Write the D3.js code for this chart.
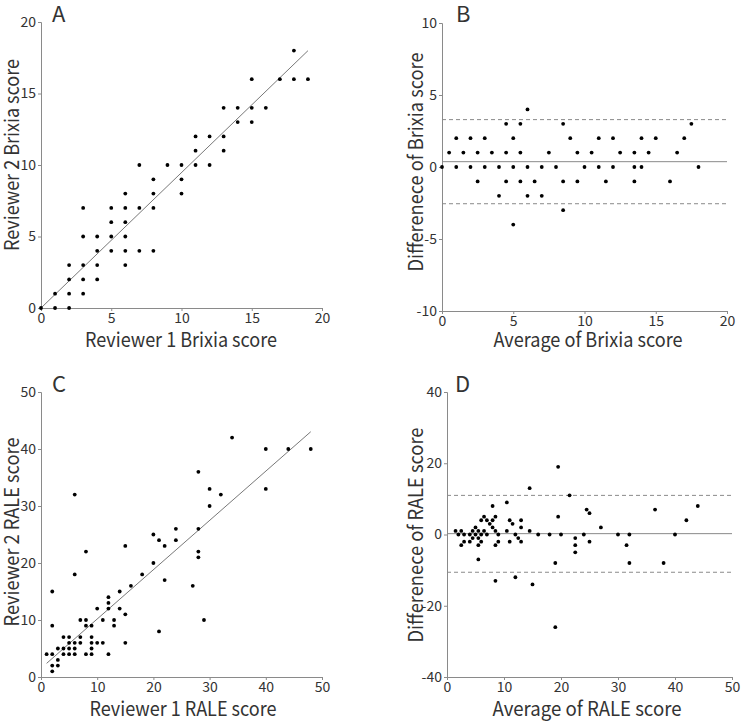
<!DOCTYPE html>
<html>
<head>
<meta charset="utf-8">
<script src="https://cdn.jsdelivr.net/npm/d3@7"></script>
<style>
  body { margin: 0; background: #fff; }
  text { font-family: "Noto Sans CJK JP", "Noto Sans", sans-serif; fill: #333; }
</style>
</head>
<body>
<div id="chart"></div>
<script>
// Panel A: reviewer 1 vs reviewer 2 Brixia score
const brixiaR1 = [0,1,1,2,2,2,2,3,3,3,3,3,4,4,4,4,5,5,5,5,6,6,6,6,6,6,7,7,7,8,8,8,8,9,10,10,10,11,11,11,12,12,13,13,13,14,14,15,15,15,16,17,18,18,19];
const brixiaR2 = [0,0,1,0,1,2,3,1,2,3,5,7,2,3,4,5,4,5,6,7,3,4,5,6,7,8,4,7,10,4,7,8,9,10,8,9,10,10,11,12,10,12,11,12,14,13,14,13,14,16,14,16,16,18,16];
const brixiaFit = [0, 0.947];          // intercept, slope
const brixiaFitRange = [0, 19];

// Panel B: Bland-Altman, Brixia
const brixiaAvg = [0,0.5,1,1,1.5,2,2,2.5,2.5,3,3,3.5,4,4,4.5,4.5,4.5,5,5,5,5.5,5.5,5.5,6,6,6,6.5,7,7,7.5,8,8.5,8.5,8.5,9,9.5,9.5,10,10.5,11,11,11.5,12,12,12.5,13.5,13.5,13.5,14,14,14.5,15,16,16.5,17,17.5,18];
const brixiaDiff = [0,1,2,0,1,2,0,1,-1,2,0,1,0,-2,3,1,-1,2,0,-4,3,1,-1,4,0,-2,-1,0,-2,1,0,3,-1,-3,2,1,-1,0,1,2,0,-1,2,0,1,1,0,-1,2,0,1,2,-1,1,2,3,0];
const brixiaBA = [0.37, 3.29, -2.55];  // mean, upper LoA, lower LoA

// Panel C: reviewer 1 vs reviewer 2 RALE score
const raleR1 = [1,2,2,2,2,2,3,3,3,4,4,4,5,5,5,5,6,6,6,6,6,7,7,7,8,8,8,8,9,9,9,9,9,10,10,11,11,12,12,12,12,13,13,14,14,15,15,15,16,18,20,20,21,21,22,22,24,24,27,28,28,28,28,29,30,30,32,34,40,40,44,48];
const raleR2 = [4,4,2,1,9,15,2,3,5,4,5,7,4,5,6,7,4,5,6,18,32,6,7,10,4,9,10,22,4,5,6,7,9,6,12,6,10,4,12,13,14,9,10,12,15,6,11,23,16,18,20,25,8,24,17,23,24,26,16,26,21,22,36,10,30,33,32,42,40,33,40,40];
const raleFit = [1.53, 0.8646];
const raleFitRange = [1, 48];

// Panel D: Bland-Altman, RALE
const raleAvg = [1.5,2,2.5,2.5,3,3,4,4,4.5,4.5,5,5,5.5,5.5,5.5,5.5,6,6,6,6.5,6.5,7,7,7.5,8,8,8,8.5,8.5,8.5,8.5,9,9,10.5,10.5,11,11,11.5,12,12,12.5,13,13,13,14.5,14.5,15,16,18,19,19,19.5,19.5,20,21.5,22.5,22.5,22.5,24,24.5,25,25,27,30,31.5,32,32,36.5,38,40,42,44];
const raleDiff = [1,0,1,-3,0,-2,0,-2,1,-1,2,0,1,-1,-3,-7,4,0,-2,5,1,4,0,3,8,4,2,5,1,-3,-13,0,-2,9,1,4,-2,3,0,-12,-1,4,2,-2,13,1,-14,0,0,-8,-26,19,5,0,11,-1,-3,-5,0,7,6,-2,2,0,-3,0,-8,7,-8,0,4,8];
const raleBA = [0.24, 10.98, -10.6];

const svg = d3.select("#chart").append("svg")
  .attr("width", 750)
  .attr("height", 725);

// layout per panel; title widths follow the condensed font of the original
const panels = [
  { label: "A", xs: brixiaR1, ys: brixiaR2, xDom: [0, 20], yDom: [0, 20], xTicks: [0,5,10,15,20], yTicks: [0,5,10,15,20],
    xr: [41, 322], yr: [308, 22], xTitle: "Reviewer 1 Brixia score", yTitle: "Reviewer 2 Brixia score",
    fit: brixiaFit, fitRange: brixiaFitRange,
    xt: [181, 347, 192], yt: [19, 155, 192], lx: 52, ly: 22 },
  { label: "B", xs: brixiaAvg, ys: brixiaDiff, xDom: [0, 20], yDom: [-10, 10], xTicks: [0,5,10,15,20], yTicks: [-10,-5,0,5,10],
    xr: [442, 727], yr: [311, 23], xTitle: "Average of Brixia score", yTitle: "Differenece of Brixia score",
    ba: brixiaBA,
    xt: [588, 347, 189], yt: [423, 162, 219], lx: 456, ly: 22 },
  { label: "C", xs: raleR1, ys: raleR2, xDom: [0, 50], yDom: [0, 50], xTicks: [0,10,20,30,40,50], yTicks: [0,10,20,30,40,50],
    xr: [41, 322], yr: [677, 392], xTitle: "Reviewer 1 RALE score", yTitle: "Reviewer 2 RALE score",
    fit: raleFit, fitRange: raleFitRange,
    xt: [183, 716, 187], yt: [19, 532, 189], lx: 52, ly: 392 },
  { label: "D", xs: raleAvg, ys: raleDiff, xDom: [0, 50], yDom: [-40, 40], xTicks: [0,10,20,30,40,50], yTicks: [-40,-20,0,20,40],
    xr: [447, 732], yr: [677, 392], xTitle: "Average of RALE score", yTitle: "Differenece of RALE score",
    ba: raleBA,
    xt: [587, 716, 189], yt: [423, 535, 215], lx: 455, ly: 392 }
];

panels.forEach(function(p) {
  const x = d3.scaleLinear().domain(p.xDom).range(p.xr);
  const y = d3.scaleLinear().domain(p.yDom).range(p.yr);
  const g = svg.append("g");

  // axes
  const xAxis = g.append("g")
    .attr("transform", `translate(0,${p.yr[0]})`)
    .call(d3.axisBottom(x).tickValues(p.xTicks).tickSize(3).tickPadding(2).tickFormat(d => String(d)));
  const yAxis = g.append("g")
    .attr("transform", `translate(${p.xr[0]},0)`)
    .call(d3.axisLeft(y).tickValues(p.yTicks).tickSize(3).tickPadding(2).tickFormat(d => String(d)));
  [xAxis, yAxis].forEach(function(a) {
    a.select(".domain").attr("stroke", "#8a8a8a").attr("stroke-width", 1);
    a.selectAll(".tick line").attr("stroke", "#8a8a8a");
    a.selectAll(".tick text").style("font-size", "14px").attr("fill", "#333");
  });

  // fit line or Bland-Altman lines
  if (p.fit) {
    g.append("line")
      .attr("x1", x(p.fitRange[0])).attr("y1", y(p.fit[0] + p.fit[1] * p.fitRange[0]))
      .attr("x2", x(p.fitRange[1])).attr("y2", y(p.fit[0] + p.fit[1] * p.fitRange[1]))
      .attr("stroke", "#555").attr("stroke-width", 0.8);
  }
  if (p.ba) {
    g.selectAll(".ba").data(p.ba).enter().append("line")
      .attr("x1", x(p.xDom[0])).attr("x2", x(p.xDom[1]))
      .attr("y1", d => y(d)).attr("y2", d => y(d))
      .attr("stroke", "#8a8a8a").attr("stroke-width", 1)
      .attr("stroke-dasharray", (d, i) => i === 0 ? null : "4,3");
  }

  // points
  g.selectAll("circle")
    .data(p.xs.map((v, i) => [v, p.ys[i]]))
    .enter().append("circle")
      .attr("cx", d => x(d[0]))
      .attr("cy", d => y(d[1]))
      .attr("r", 1.9)
      .attr("fill", "#000");

  // titles
  g.append("text")
    .attr("x", p.xt[0]).attr("y", p.xt[1])
    .attr("text-anchor", "middle")
    .attr("textLength", p.xt[2]).attr("lengthAdjust", "spacingAndGlyphs")
    .style("font-size", "20px")
    .text(p.xTitle);
  g.append("text")
    .attr("transform", `translate(${p.yt[0]},${p.yt[1]}) rotate(-90)`)
    .attr("text-anchor", "middle")
    .attr("textLength", p.yt[2]).attr("lengthAdjust", "spacingAndGlyphs")
    .style("font-size", "20px")
    .text(p.yTitle);
  g.append("text")
    .attr("x", p.lx).attr("y", p.ly)
    .style("font-size", "22px")
    .text(p.label);
});
</script>
</body>
</html>
